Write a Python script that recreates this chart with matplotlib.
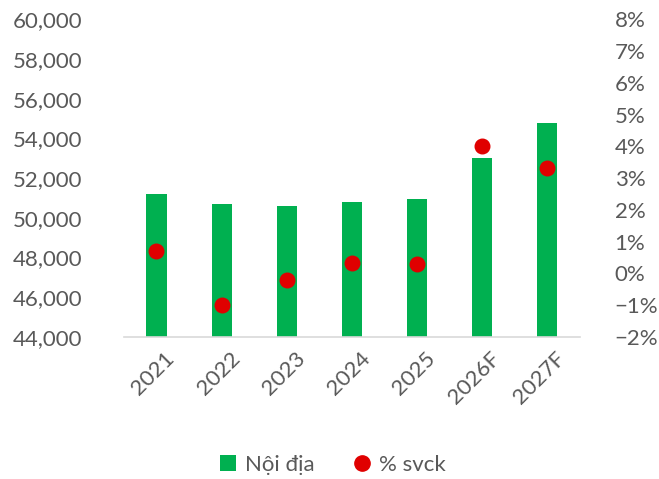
import matplotlib
matplotlib.use("Agg")
import matplotlib.pyplot as plt
from matplotlib.ticker import FuncFormatter, MultipleLocator
from matplotlib.lines import Line2D
from matplotlib.patches import Patch
import matplotlib.transforms as mtrans

categories = ["2021", "2022", "2023", "2024", "2025", "2026F", "2027F"]
noi_dia = [51200, 50700, 50600, 50800, 50950, 53000, 54780]
svck = [0.69, -0.99, -0.20, 0.34, 0.31, 4.02, 3.32]

GREEN = "#00B050"
RED = "#E00000"
TXT = "#595959"
FS = 16
plt.rcParams['font.family'] = ['Lato', 'DejaVu Sans']

fig = plt.figure(figsize=(6.59, 4.79), dpi=100)
ax = fig.add_axes([0.188, 0.2965, 0.692, 0.6635])
x = range(len(categories))
ax.bar(x, noi_dia, width=0.31, color=GREEN, zorder=2)
ax.set_xlim(-0.5, len(categories) - 0.5)
ax.set_ylim(44000, 60000)
ax.yaxis.set_major_locator(MultipleLocator(2000))
ax.yaxis.set_major_formatter(FuncFormatter(lambda v, p: f"{int(v):,}"))
for s in ["top", "right", "left"]:
    ax.spines[s].set_visible(False)
ax.spines["bottom"].set_color("#D9D9D9")
ax.spines["bottom"].set_linewidth(1.2)
ax.tick_params(axis="y", length=0, labelsize=FS, labelcolor=TXT, pad=30)
ax.tick_params(axis="x", length=0, labelsize=FS, labelcolor=TXT, pad=8)
ax.set_xticks(list(x))
ax.set_xticklabels(categories, rotation=45, ha="right", rotation_mode="anchor")
offset = mtrans.ScaledTranslation(8/100, 0, fig.dpi_scale_trans)
for lbl in ax.get_xticklabels():
    lbl.set_transform(lbl.get_transform() + offset)

ax2 = ax.twinx()
ax2.scatter(x, svck, s=110, color=RED, zorder=3)
ax2.set_ylim(-2, 8)
ax2.yaxis.set_major_locator(MultipleLocator(1))
ax2.yaxis.set_major_formatter(FuncFormatter(lambda v, p: f"{int(round(v))}%".replace("-", "\u2212")))
for s in ["top", "right", "left", "bottom"]:
    ax2.spines[s].set_visible(False)
ax2.tick_params(axis="y", length=0, labelsize=FS, labelcolor=TXT, pad=25)

handles = [Patch(facecolor=GREEN, edgecolor="none", label="Nội địa"),
           Line2D([], [], marker="o", linestyle="none", markersize=11,
                  markerfacecolor=RED, markeredgecolor=RED, label="% svck")]
fig.legend(handles=handles, loc="center", bbox_to_anchor=(0.505, 0.03), ncol=2,
           frameon=False, fontsize=FS, labelcolor=TXT, handlelength=0.7,
           handletextpad=0.4, columnspacing=1.8)

fig.savefig("out.png", dpi=100)
